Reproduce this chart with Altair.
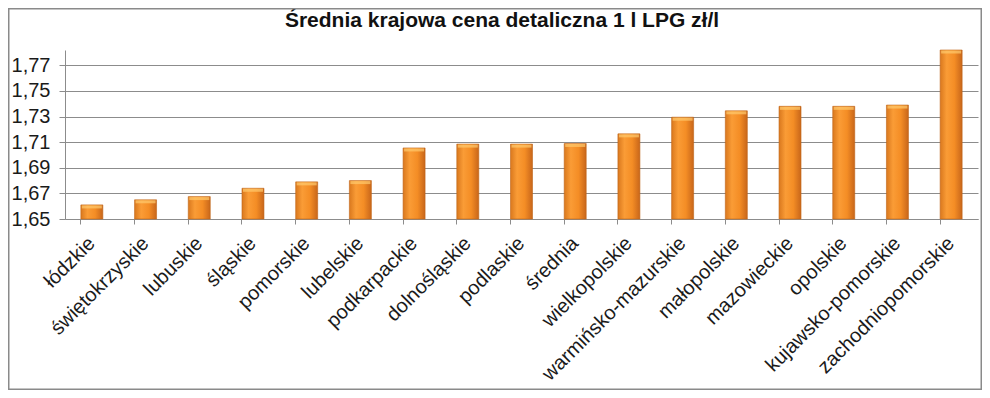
import altair as alt
import pandas as pd

categories = ["łódzkie", "świętokrzyskie", "lubuskie", "śląskie", "pomorskie",
              "lubelskie", "podkarpackie", "dolnośląskie", "podlaskie", "średnia",
              "wielkopolskie", "warmińsko-mazurskie", "małopolskie", "mazowieckie",
              "opolskie", "kujawsko-pomorskie", "zachodniopomorskie"]
prices = [1.661, 1.665, 1.6675, 1.674, 1.679, 1.680, 1.7055, 1.7085, 1.7085,
          1.709, 1.7165, 1.7295, 1.7345, 1.738, 1.738, 1.739, 1.782]
y_ticks = [1.65, 1.67, 1.69, 1.71, 1.73, 1.75, 1.77]
title_text = "Średnia krajowa cena detaliczna 1 l LPG zł/l"

df = pd.DataFrame({"region": categories, "price": prices, "base": y_ticks[0]})
one = pd.DataFrame({"t": [title_text]})

W, H = 913, 169
PAD_L, PAD_T = 57, 42
FONT = "Liberation Sans"

x_axis = alt.Axis(labelAngle=-45, labelAlign="right", labelBaseline="middle",
                  labelFontSize=20, labelFont=FONT, labelColor="#1a1a1a",
                  labelPadding=16, tickSize=5, tickColor="#8c8c8c",
                  bandPosition=0, domainColor="#8c8c8c", grid=False,
                  labelOverlap=False, labelLimit=400)
y_axis = alt.Axis(values=y_ticks,
                  labelExpr="replace(format(datum.value, '.2f'), '.', ',')",
                  labelFontSize=20, labelFont=FONT, labelColor="#1a1a1a",
                  labelPadding=9, tickSize=6, tickColor="#8c8c8c",
                  labelOverlap=False, labelFlush=False,
                  domainColor="#8c8c8c", gridColor="#8c8c8c", gridWidth=1)
x_scale = alt.Scale(paddingInner=0.59, paddingOuter=0.295)
y_scale = alt.Scale(domain=[y_ticks[0], 1.782], nice=False, zero=False)

grad = {"gradient": "linear", "x1": 0, "x2": 1, "y1": 0, "y2": 0,
        "stops": [{"offset": 0, "color": "#D9781E"},
                  {"offset": 0.3, "color": "#FA9C36"},
                  {"offset": 0.65, "color": "#F48D25"},
                  {"offset": 1, "color": "#C8661A"}]}

bars = alt.Chart(df).mark_bar(size=22, color=grad, stroke="#C06418", strokeWidth=0.6).encode(
    x=alt.X("region:N", sort=categories, title=None, scale=x_scale, axis=x_axis),
    y=alt.Y("price:Q", scale=y_scale, title=None, axis=y_axis),
    y2="base:Q",
)

caps = alt.Chart(df).mark_tick(size=20, thickness=3, color="#FFCB6E", yOffset=2).encode(
    x=alt.X("region:N", sort=categories, title=None, scale=x_scale, axis=x_axis),
    y=alt.Y("price:Q", scale=y_scale, title=None, axis=y_axis),
)

title = alt.Chart(one).mark_text(fontSize=21, fontWeight="bold", font=FONT,
                                 color="#111111").encode(
    text="t:N", x=alt.value(437), y=alt.value(-29)
)

border = alt.Chart(one).mark_rect(fill=None, stroke="#8a8a8a", strokeWidth=1.5).encode(
    x=alt.value(-PAD_L + 0.75), x2=alt.value(974 - PAD_L - 0.75),
    y=alt.value(-PAD_T + 0.75), y2=alt.value(382 - PAD_T - 0.75)
)

chart = alt.layer(bars, caps, title, border).properties(
    width=W, height=H,
    autosize=alt.AutoSizeParams(type="none"),
    padding={"left": PAD_L, "top": PAD_T, "right": 974 - PAD_L - W, "bottom": 382 - PAD_T - H},
    background="white",
).configure_view(stroke=None)

chart.save("out.html", embed_options={"renderer": "svg", "actions": False})
